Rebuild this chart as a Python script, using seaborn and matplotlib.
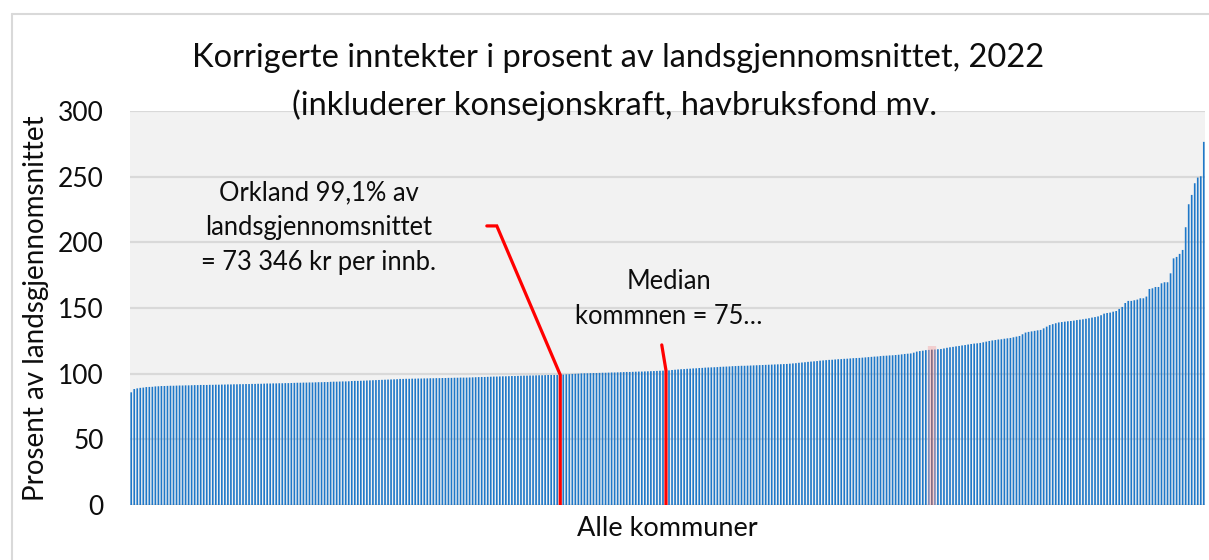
import numpy as np
import pandas as pd
import seaborn as sns
import matplotlib.pyplot as plt
from matplotlib.lines import Line2D

# Korrigerte inntekter i prosent av landsgjennomsnittet, sortert stigende (356 kommuner)
verdier = [
    85.8, 88.3, 88.8, 89.2, 89.4, 89.8, 89.9, 90.0, 90.3, 90.4,
    90.6, 90.6, 90.7, 90.8, 90.8, 90.9, 91.0, 91.0, 91.1, 91.1,
    91.2, 91.3, 91.3, 91.4, 91.4, 91.4, 91.5, 91.5, 91.6, 91.6,
    91.7, 91.7, 91.8, 91.8, 91.9, 91.9, 92.0, 92.0, 92.1, 92.1,
    92.2, 92.2, 92.3, 92.3, 92.4, 92.5, 92.5, 92.6, 92.6, 92.7,
    92.7, 92.8, 92.8, 92.9, 93.0, 93.1, 93.1, 93.2, 93.2, 93.3,
    93.3, 93.4, 93.5, 93.5, 93.6, 93.6, 93.8, 93.9, 93.9, 94.0,
    94.1, 94.1, 94.2, 94.4, 94.5, 94.5, 94.6, 94.7, 94.8, 94.9,
    95.0, 95.1, 95.2, 95.3, 95.4, 95.5, 95.6, 95.7, 95.8, 96.0,
    96.0, 96.1, 96.1, 96.2, 96.2, 96.3, 96.3, 96.4, 96.4, 96.5,
    96.5, 96.6, 96.6, 96.7, 96.7, 96.8, 96.8, 96.9, 96.9, 97.0,
    97.0, 97.0, 97.1, 97.2, 97.3, 97.4, 97.5, 97.5, 97.6, 97.7,
    97.8, 97.8, 97.9, 98.0, 98.0, 98.1, 98.2, 98.2, 98.3, 98.4,
    98.5, 98.5, 98.6, 98.6, 98.7, 98.8, 98.8, 98.9, 99.0, 99.0,
    99.0, 99.0, 99.1, 99.3, 99.5, 99.6, 99.8, 99.9, 100.0, 100.2,
    100.3, 100.3, 100.4, 100.5, 100.5, 100.6, 100.7, 100.7, 100.8, 100.9,
    100.9, 101.0, 101.1, 101.2, 101.3, 101.3, 101.4, 101.5, 101.6, 101.6,
    101.7, 101.8, 101.9, 102.0, 102.1, 102.2, 102.3, 102.4, 102.5, 102.8,
    103.0, 103.2, 103.4, 103.5, 103.7, 103.8, 104.0, 104.1, 104.3, 104.4,
    104.6, 104.7, 104.8, 104.9, 105.0, 105.2, 105.3, 105.4, 105.5, 105.7,
    105.8, 105.9, 106.0, 106.0, 106.1, 106.2, 106.3, 106.4, 106.5, 106.6,
    106.7, 106.8, 106.9, 107.0, 107.1, 107.2, 107.3, 107.4, 107.6, 107.8,
    108.0, 108.3, 108.5, 108.7, 109.0, 109.2, 109.4, 109.6, 109.9, 110.1,
    110.3, 110.5, 110.6, 110.8, 111.0, 111.1, 111.3, 111.4, 111.6, 111.8,
    111.9, 112.0, 112.2, 112.4, 112.6, 112.8, 113.0, 113.1, 113.4, 113.6,
    113.7, 113.9, 114.0, 114.2, 114.4, 114.7, 115.0, 115.2, 115.4, 116.0,
    116.8, 117.2, 117.5, 117.9, 118.1, 118.3, 118.4, 118.6, 118.8, 119.2,
    119.7, 120.1, 120.4, 120.8, 121.1, 121.5, 121.8, 122.2, 122.6, 122.9,
    123.1, 123.4, 123.9, 124.4, 124.9, 125.3, 125.6, 126.0, 126.2, 126.6,
    126.9, 127.2, 127.7, 128.2, 128.7, 130.0, 131.3, 131.8, 132.2, 132.6,
    133.0, 133.3, 134.5, 135.8, 137.0, 137.7, 138.4, 139.0, 139.3, 139.6,
    139.9, 140.1, 140.4, 140.8, 141.1, 141.4, 141.8, 142.2, 142.7, 143.1,
    143.6, 144.5, 145.7, 146.2, 146.5, 147.2, 147.7, 149.3, 150.8, 153.8,
    155.4, 155.4, 155.9, 156.4, 157.4, 157.4, 158.7, 164.5, 165.0, 166.0,
    166.0, 168.8, 169.6, 169.6, 176.4, 187.8, 188.9, 191.2, 194.2, 211.5,
    229.0, 236.1, 245.0, 249.3, 250.3, 276.5,
]
orkland_idx = 142
median_idx = 177
markert_idx = 265

title_lines = ["Korrigerte inntekter i prosent av landsgjennomsnittet, 2022",
               "(inkluderer konsejonskraft, havbruksfond mv."]
orkland_tekst = "Orkland 99,1% av\nlandsgjennomsnittet\n= 73 346 kr per innb."
median_tekst = "Median\nkommnen = 75…"
yticks = [0, 50, 100, 150, 200, 250, 300]

df = pd.DataFrame({"kommune": np.arange(len(verdier)), "prosent": verdier})

sns.set_style("white")
plt.rcParams["font.family"] = ["Lato", "DejaVu Sans"]
plt.rcParams["text.color"] = "#0D0D0D"
plt.rcParams["axes.labelcolor"] = "#0D0D0D"
plt.rcParams["ytick.color"] = "#0D0D0D"

fig = plt.figure(figsize=(12.09, 5.6), dpi=100)
ax = fig.add_axes([130 / 1209, 1 - 505 / 560, 1075 / 1209, 394 / 560])
ax.set_facecolor("#F2F2F2")

sns.barplot(data=df, x="kommune", y="prosent", native_scale=True,
            color="#1F78C8", width=0.55, linewidth=0, saturation=1, ax=ax)
for p in ax.patches:
    p.set_snap(False)

# marked bars
ax.patches[markert_idx].set_facecolor("#1F3864")
ax.patches[orkland_idx].set_facecolor("#1F3864")
ax.vlines(markert_idx, 0, verdier[markert_idx] + 3, color="#F4A6A6",
          lw=6, alpha=0.45, zorder=3)

ax.set_xlim(-0.4, len(verdier) - 0.6)
ax.set_ylim(0, 300)
ax.set_yticks(yticks)
ax.set_xticks([])
ax.yaxis.grid(True, color="#D9D9D9", lw=1.6)
ax.set_axisbelow(True)
for s in ax.spines.values():
    s.set_visible(False)
ax.tick_params(axis="y", length=0, pad=19, labelsize=19)
ax.set_ylabel("Prosent av landsgjennomsnittet", fontsize=20, labelpad=6)
ax.set_xlabel("Alle kommuner", fontsize=19.5, labelpad=8)

# annotation lines
ax.plot([117.7, 121.0, orkland_idx, orkland_idx],
        [212.5, 212.5, verdier[orkland_idx], 0],
        color="#FF0000", lw=2.3, zorder=5, solid_joinstyle="miter")
ax.plot([175.6, median_idx, median_idx],
        [121.9, verdier[median_idx], 0],
        color="#FF0000", lw=2.3, zorder=5)

ax.text(62, 211, orkland_tekst, ha="center", va="center", fontsize=18.4,
        linespacing=1.5)
ax.text(178, 157, median_tekst, ha="center", va="center", fontsize=18.4,
        linespacing=1.5)

fig.text(618 / 1209, 1 - 58 / 560, title_lines[0], ha="center", va="center",
         fontsize=23.5)
fig.text(615 / 1209, 1 - 105 / 560, title_lines[1], ha="center", va="center",
         fontsize=23.5)

# chart frame
fig.add_artist(Line2D([12 / 1209, 1], [1 - 14 / 560, 1 - 14 / 560],
                      transform=fig.transFigure, color="#D9D9D9", lw=1.5))
fig.add_artist(Line2D([12 / 1209, 12 / 1209], [0, 1 - 14 / 560],
                      transform=fig.transFigure, color="#D9D9D9", lw=1.5))

fig.savefig("out.png", dpi=100, facecolor="white")
